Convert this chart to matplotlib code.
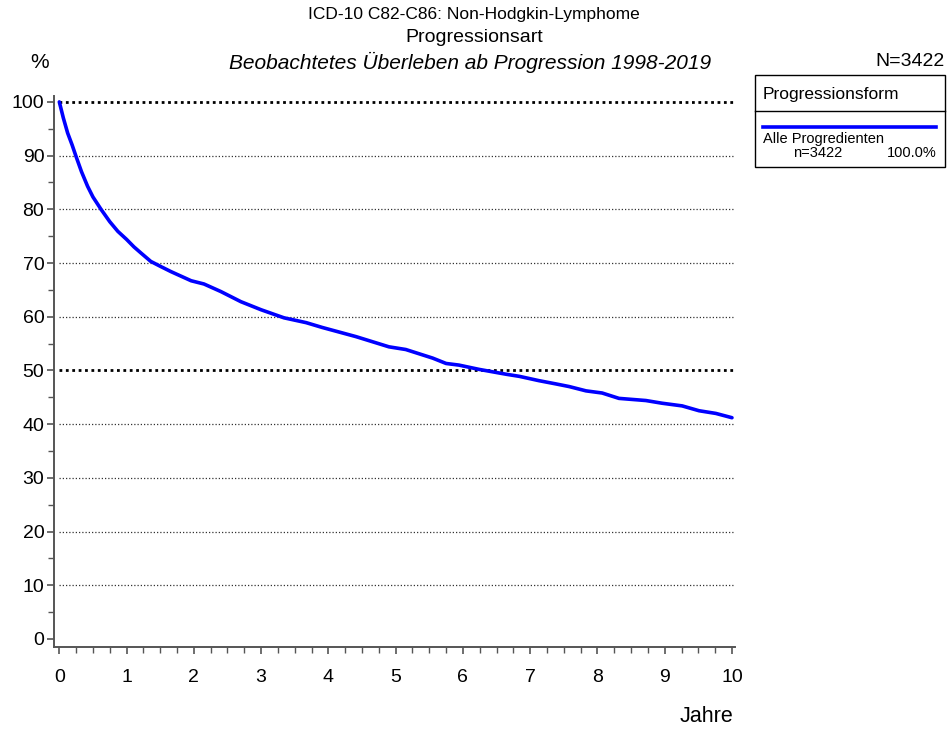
import matplotlib
matplotlib.use("Agg")
import matplotlib.pyplot as plt
from matplotlib.ticker import MultipleLocator
from matplotlib.lines import Line2D
from matplotlib.patches import Rectangle

plt.rcParams['font.family'] = ['Liberation Sans', 'DejaVu Sans']

# ---- data ----
years = [0, 0.06, 0.124, 0.19, 0.25, 0.33, 0.42, 0.5, 0.62, 0.75, 0.87, 1.0, 1.11, 1.22,
         1.36, 1.5, 1.66, 1.96, 2.15, 2.40, 2.70, 3.0, 3.34, 3.67, 3.91, 4.41, 4.90,
         5.15, 5.55, 5.75, 5.94, 6.24, 6.64, 6.84, 7.13, 7.38, 7.58, 7.83, 8.07, 8.32,
         8.72, 8.96, 9.26, 9.51, 9.76, 10.0]
survival = [100, 97.0, 94.2, 92.0, 89.8, 87.0, 84.3, 82.3, 80.0, 77.7, 75.9, 74.4, 73.0, 71.8,
            70.3, 69.4, 68.4, 66.7, 66.1, 64.7, 62.8, 61.3, 59.8, 58.9, 58.0, 56.3, 54.4,
            53.9, 52.3, 51.3, 51.0, 50.2, 49.3, 48.9, 48.1, 47.5, 47.0, 46.2, 45.8, 44.8,
            44.4, 43.9, 43.4, 42.5, 42.0, 41.2]
series_label = "Alle Progredienten"
series_n = "n=3422"
series_pct = "100.0%"
grid_levels = [10, 20, 30, 40, 60, 70, 80, 90]
bold_levels = [50, 100]
x_ticks = list(range(0, 11))
y_ticks = list(range(0, 101, 10))

W, H = 947, 729
fig = plt.figure(figsize=(W / 100, H / 100), dpi=100)

# axes box in pixels: left 54, right 735, top 96, bottom 647
ax = fig.add_axes([54 / W, (H - 647) / H, (735 - 54) / W, (647 - 96) / H])
ax.set_xlim(-0.079, 10.045)
ax.set_ylim(-1.49, 101.1)

xmax = 10.045
ax.hlines(grid_levels, 0, xmax, colors='#333333', linestyles=(0, (1, 1.6)), linewidth=0.9, zorder=1)
ax.hlines(bold_levels, 0, xmax, colors='black', linestyles=(0, (1, 1.3)), linewidth=2.0, zorder=1)

ax.plot(years, survival, color='#0000ff', linewidth=2.6, zorder=3,
        solid_joinstyle='round', solid_capstyle='round')

for s in ['top', 'right']:
    ax.spines[s].set_visible(False)
for s in ['left', 'bottom']:
    ax.spines[s].set_color('#555555')
    ax.spines[s].set_linewidth(1.4)

ax.set_xticks(x_ticks)
ax.set_yticks(y_ticks)
ax.xaxis.set_minor_locator(MultipleLocator(0.25))
ax.yaxis.set_minor_locator(MultipleLocator(5))
ax.tick_params(axis='both', which='major', direction='out', length=5, width=1.2,
               color='#555555', labelsize=14, labelcolor='black')
ax.tick_params(axis='both', which='minor', direction='out', length=4, width=1.0, color='#555555')
ax.tick_params(axis='x', pad=11)
ax.tick_params(axis='y', pad=2)

# titles
fig.text(474 / W, 1 - 15 / H, "ICD-10 C82-C86: Non-Hodgkin-Lymphome", ha='center', va='center', fontsize=12.5)
fig.text(474 / W, 1 - 38 / H, "Progressionsart", ha='center', va='center', fontsize=14)
fig.text(470 / W, 1 - 62 / H, "Beobachtetes Überleben ab Progression 1998-2019", ha='center', va='center',
         fontsize=15, style='italic')
fig.text(40 / W, 1 - 62 / H, "%", ha='center', va='center', fontsize=15)
fig.text(945 / W, 1 - 62 / H, "N=3422", ha='right', va='center', fontsize=14)
fig.text(733 / W, 1 - 716 / H, "Jahre", ha='right', va='center', fontsize=15.5)

# legend box
box = Rectangle((755 / W, 1 - 167 / H), (945 - 755) / W, (167 - 75) / H, transform=fig.transFigure,
                fill=False, edgecolor='black', linewidth=1.0)
fig.add_artist(box)
fig.add_artist(Line2D([755 / W, 945 / W], [1 - 111 / H, 1 - 111 / H], transform=fig.transFigure,
                      color='black', linewidth=1.0))
fig.text(763 / W, 1 - 94 / H, "Progressionsform", ha='left', va='center', fontsize=12.5)
fig.add_artist(Line2D([763 / W, 936 / W], [1 - 126.5 / H, 1 - 126.5 / H], transform=fig.transFigure,
                      color='#0000ff', linewidth=2.6))
fig.text(763 / W, 1 - 139 / H, series_label, ha='left', va='center', fontsize=10.5)
fig.text(793 / W, 1 - 153 / H, series_n, ha='left', va='center', fontsize=10.5)
fig.text(937 / W, 1 - 153 / H, series_pct, ha='right', va='center', fontsize=10.5)

fig.savefig("out.png", dpi=100)
